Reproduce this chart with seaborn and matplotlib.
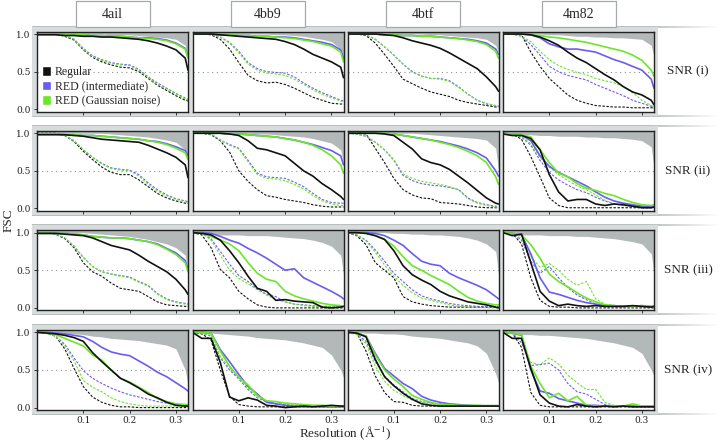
import numpy as np
import matplotlib
matplotlib.use('Agg')
import matplotlib.pyplot as plt
from matplotlib.patches import Rectangle, Patch
import seaborn as sns

# resolution grid (1/Angstrom) shared by all curves
X = [0.0, 0.02, 0.04, 0.06, 0.08, 0.10, 0.12, 0.14, 0.16, 0.18,
     0.20, 0.22, 0.24, 0.26, 0.28, 0.30, 0.32, 0.326]

proteins = ['4ail', '4bb9', '4btf', '4m82']
snr_levels = ['SNR (i)', 'SNR (ii)', 'SNR (iii)', 'SNR (iv)']
legend_labels = ['Regular', 'RED (intermediate)', 'RED (Gaussian noise)']

# --- SNR (i)
p_4ail_i = dict(
    ref=[1, 1, 1, 1, 1, 1, 1, 1, .99, .99, .99, .98, .97, .96, .95, .93, .85, .66],
    reg=[.99, .99, .99, .98, .98, .97, .97, .96, .96, .95, .94, .93, .91, .88, .84, .79, .68, .52],
    inter=[1, 1, 1, .99, .99, .99, .98, .98, .97, .97, .96, .95, .95, .94, .92, .88, .81, .70],
    gauss=[1, 1, 1, .99, .99, .99, .98, .98, .97, .97, .96, .95, .94, .93, .91, .87, .80, .68],
    reg_d=[1, 1, 1, .97, .92, .79, .69, .63, .59, .56, .55, .50, .41, .32, .25, .18, .12, .11],
    inter_d=[1, 1, 1, .98, .93, .81, .71, .66, .62, .60, .59, .53, .43, .35, .28, .21, .15, .13],
    gauss_d=[1, 1, 1, .98, .93, .80, .70, .65, .61, .59, .58, .52, .42, .33, .27, .20, .14, .12])
p_4bb9_i = dict(
    ref=[1, 1, 1, 1, 1, 1, 1, 1, 1, .99, .99, .98, .97, .95, .93, .90, .80, .64],
    reg=[1, 1, 1, .99, .98, .97, .96, .95, .94, .93, .90, .86, .80, .73, .68, .63, .56, .42],
    inter=[1, 1, 1, .99, .99, .98, .98, .97, .97, .96, .96, .95, .93, .91, .89, .86, .79, .67],
    gauss=[1, 1, 1, .99, .99, .98, .98, .97, .97, .96, .95, .94, .92, .90, .87, .84, .76, .63],
    reg_d=[1, 1, .99, .93, .80, .62, .45, .38, .35, .36, .33, .28, .22, .16, .12, .08, .07, .07],
    inter_d=[1, 1, 1, .96, .89, .77, .62, .54, .50, .49, .48, .43, .35, .28, .22, .17, .12, .11],
    gauss_d=[1, 1, 1, .96, .88, .75, .60, .52, .48, .47, .45, .40, .33, .26, .20, .15, .11, .10])
p_4btf_i = dict(
    ref=[1, 1, 1, 1, 1, 1, 1, 1, 1, .99, .99, .98, .97, .96, .95, .93, .85, .75],
    reg=[1, 1, 1, 1, .99, .98, .95, .91, .88, .85, .81, .75, .68, .61, .54, .43, .30, .24],
    inter=[1, 1, 1, 1, .99, .99, .98, .98, .97, .97, .96, .95, .94, .93, .91, .88, .80, .73],
    gauss=[1, 1, 1, 1, .99, .99, .98, .98, .97, .97, .96, .95, .94, .92, .90, .86, .77, .68],
    reg_d=[1, 1, .98, .88, .73, .57, .40, .34, .28, .23, .20, .17, .12, .09, .07, .05, .03, .03],
    inter_d=[1, 1, .99, .93, .83, .72, .60, .50, .44, .41, .41, .38, .30, .20, .12, .07, .04, .04],
    gauss_d=[1, 1, .99, .93, .83, .72, .60, .49, .44, .41, .40, .37, .29, .20, .12, .08, .05, .05])
p_4m82_i = dict(
    ref=[1, 1, 1, 1, 1, .99, .99, .98, .97, .97, .96, .96, .95, .95, .94, .93, .85, .70],
    reg=[1, 1, 1, .99, .96, .91, .85, .76, .68, .62, .54, .46, .39, .30, .23, .19, .12, .06],
    inter=[1, 1, 1, .99, .95, .87, .83, .80, .80, .78, .76, .71, .66, .62, .57, .52, .40, .28],
    gauss=[1, 1, 1, .99, .98, .96, .95, .93, .91, .89, .86, .83, .80, .77, .72, .65, .52, .44],
    reg_d=[1, 1, .99, .76, .57, .41, .30, .19, .12, .08, .05, .04, .03, .03, .02, .02, .02, .02],
    inter_d=[1, 1, .97, .86, .72, .57, .50, .45, .42, .39, .33, .28, .23, .18, .12, .08, .04, .03],
    gauss_d=[1, 1, .97, .90, .77, .66, .58, .53, .49, .46, .41, .38, .35, .30, .22, .12, .05, .03])

# --- SNR (ii)
p_4ail_ii = dict(
    ref=[1, 1, 1, 1, 1, 1, 1, 1, .99, .98, .97, .96, .95, .93, .91, .88, .78, .68],
    reg=[.98, .98, .98, .98, .97, .96, .94, .92, .91, .90, .89, .88, .84, .79, .74, .68, .58, .41],
    inter=[.99, .99, .99, .98, .98, .97, .97, .96, .95, .94, .93, .92, .90, .89, .86, .82, .77, .70],
    gauss=[.99, .99, .99, .98, .98, .97, .97, .96, .95, .94, .93, .92, .90, .88, .85, .80, .74, .65],
    reg_d=[1, 1, 1, .97, .89, .76, .65, .55, .48, .45, .45, .38, .29, .20, .14, .10, .07, .07],
    inter_d=[1, 1, 1, .97, .90, .78, .68, .60, .54, .52, .51, .45, .34, .25, .18, .13, .10, .09],
    gauss_d=[1, 1, 1, .97, .90, .78, .68, .59, .53, .51, .50, .43, .32, .23, .17, .12, .09, .08])
p_4bb9_ii = dict(
    ref=[1, 1, 1, 1, 1, 1, 1, .99, .99, .98, .97, .96, .95, .93, .90, .87, .78, .60],
    reg=[1, 1, 1, 1, .99, .97, .90, .80, .78, .74, .70, .60, .50, .43, .33, .25, .16, .12],
    inter=[1, 1, 1, 1, .99, .99, .98, .97, .96, .95, .93, .91, .88, .85, .81, .77, .70, .58],
    gauss=[1, 1, 1, 1, .99, .99, .98, .97, .96, .95, .93, .91, .88, .84, .78, .70, .58, .47],
    reg_d=[1, 1, .98, .90, .75, .50, .36, .25, .17, .15, .12, .10, .08, .05, .03, .02, .02, .02],
    inter_d=[1, 1, .99, .91, .85, .80, .64, .47, .42, .41, .40, .35, .29, .20, .12, .08, .07, .07],
    gauss_d=[1, 1, .99, .91, .84, .79, .62, .45, .40, .39, .37, .32, .26, .17, .10, .06, .04, .04])
p_4btf_ii = dict(
    ref=[1, 1, 1, 1, 1, 1, 1, 1, .99, .98, .97, .96, .95, .94, .93, .91, .80, .50],
    reg=[1, 1, 1, 1, .99, .97, .88, .79, .66, .61, .58, .52, .43, .34, .24, .14, .07, .06],
    inter=[1, 1, 1, 1, 1, .99, .97, .95, .93, .91, .89, .86, .83, .79, .74, .67, .50, .43],
    gauss=[1, 1, 1, 1, 1, .99, .97, .95, .93, .91, .88, .85, .81, .76, .70, .61, .42, .32],
    reg_d=[1, 1, .99, .80, .61, .40, .25, .18, .14, .13, .08, .07, .06, .04, .02, .01, .01, .01],
    inter_d=[1, .99, .96, .88, .78, .64, .44, .37, .33, .31, .30, .28, .25, .14, .08, .05, .03, .02],
    gauss_d=[1, .99, .96, .88, .78, .65, .46, .40, .36, .34, .32, .29, .25, .13, .07, .04, .02, .01])
p_4m82_ii = dict(
    ref=[1, .99, .98, .98, .97, .97, .96, .96, .96, .95, .95, .94, .94, .93, .92, .90, .82, .55],
    reg=[.99, .97, .97, .93, .78, .45, .22, .10, .12, .12, .06, .04, .06, .05, .03, .01, .01, .02],
    inter=[1, .99, .98, .90, .70, .56, .48, .42, .36, .30, .22, .15, .10, .07, .05, .03, .02, .02],
    gauss=[1, .99, .98, .95, .78, .61, .47, .42, .33, .27, .24, .20, .17, .12, .08, .05, .04, .05],
    reg_d=[1, .99, .92, .69, .42, .14, .04, .01, .01, .01, .01, .01, .01, .01, .01, .01, .01, .01],
    inter_d=[1, .99, .95, .84, .64, .48, .38, .31, .25, .21, .15, .10, .06, .04, .03, .02, .02, .02],
    gauss_d=[1, .99, .96, .86, .68, .55, .45, .37, .30, .25, .18, .11, .06, .04, .03, .02, .02, .02])

# --- SNR (iii)
p_4ail_iii = dict(
    ref=[1, 1, 1, 1, 1, 1, .99, .98, .97, .96, .95, .93, .91, .88, .85, .80, .70, .50],
    reg=[.99, .99, .99, .98, .97, .96, .93, .88, .83, .80, .77, .70, .62, .55, .48, .38, .24, .18],
    inter=[.99, .99, .99, .99, .98, .97, .95, .94, .93, .93, .92, .90, .88, .85, .79, .73, .63, .52],
    gauss=[.99, .99, .99, .99, .98, .97, .95, .94, .93, .93, .92, .90, .88, .84, .78, .71, .60, .48],
    reg_d=[1, 1, .98, .92, .80, .60, .48, .42, .33, .26, .24, .22, .15, .08, .04, .03, .02, .02],
    inter_d=[1, 1, .98, .93, .82, .67, .55, .48, .45, .43, .41, .35, .30, .19, .12, .08, .06, .05],
    gauss_d=[1, 1, .98, .93, .82, .67, .55, .48, .45, .42, .40, .34, .29, .18, .11, .07, .05, .04])
p_4bb9_iii = dict(
    ref=[1, .99, .98, .97, .97, .97, .96, .96, .96, .95, .94, .93, .92, .90, .87, .82, .70, .45],
    reg=[1, .99, .97, .90, .76, .60, .42, .26, .22, .10, .11, .09, .08, .07, .01, 0, .01, .02],
    inter=[1, 1, .99, .95, .90, .86, .79, .73, .66, .58, .50, .52, .40, .34, .28, .22, .15, .12],
    gauss=[1, .99, .95, .90, .85, .76, .60, .46, .38, .35, .22, .16, .12, .09, .06, .04, .03, .02],
    reg_d=[1, .97, .80, .51, .40, .22, .12, .04, .01, 0, 0, 0, 0, 0, 0, 0, 0, 0],
    inter_d=[1, .99, .92, .75, .58, .43, .35, .25, .18, .15, .08, .05, .04, .03, .02, .02, .02, .02],
    gauss_d=[1, .99, .90, .70, .50, .39, .32, .24, .17, .11, .08, .05, .03, .02, .02, .02, .02, .02])
p_4btf_iii = dict(
    ref=[1, 1, 1, 1, 1, .99, .99, .98, .98, .97, .97, .96, .95, .93, .90, .85, .75, .45],
    reg=[1, 1, .99, .96, .91, .76, .56, .44, .37, .31, .22, .16, .12, .08, .06, .04, .01, 0],
    inter=[1, 1, 1, .99, .96, .90, .83, .72, .62, .58, .56, .46, .40, .35, .30, .24, .15, .12],
    gauss=[1, 1, .99, .96, .91, .82, .68, .56, .50, .43, .37, .31, .22, .14, .09, .06, .04, .04],
    reg_d=[1, .96, .84, .60, .50, .40, .15, .08, .05, .03, .02, .01, .01, .01, .01, .01, .01, .01],
    inter_d=[1, .97, .90, .77, .62, .46, .35, .24, .16, .12, .09, .06, .04, .03, .02, .02, .02, .02],
    gauss_d=[1, .97, .89, .74, .57, .42, .30, .20, .13, .10, .07, .04, .02, .01, .01, 0, 0, 0])
p_4m82_iii = dict(
    ref=[1, .98, .97, .97, .97, .96, .96, .96, .95, .95, .94, .93, .92, .90, .88, .85, .72, .45],
    reg=[1, .96, .98, .60, .22, .09, .03, .05, .03, .02, .03, .02, .02, .02, .03, .02, .01, .02],
    inter=[1, .99, .97, .72, .40, .21, .18, .14, .10, .07, .05, .03, .03, .02, .02, .03, .02, .02],
    gauss=[1, .99, .97, .84, .66, .45, .35, .28, .20, .13, .08, .04, .03, .02, .02, .03, .02, .02],
    reg_d=[1, .99, .85, .40, .10, .02, .01, .01, 0, 0, 0, 0, 0, 0, 0, 0, 0, 0],
    inter_d=[1, .99, .90, .62, .46, .55, .40, .27, .17, .11, .05, .03, .02, .02, .02, .02, .02, .02],
    gauss_d=[1, .99, .92, .68, .54, .59, .50, .38, .30, .35, .12, .05, .03, .02, .02, .02, .02, .02])

# --- SNR (iv)
p_4ail_iv = dict(
    ref=[1, 1, 1, .99, .98, .97, .95, .94, .92, .91, .90, .89, .87, .85, .83, .78, .50, .30],
    reg=[1, .99, .98, .96, .93, .88, .73, .61, .50, .39, .33, .26, .18, .13, .07, .03, .02, .02],
    inter=[1, 1, .99, .98, .96, .94, .88, .80, .74, .71, .69, .62, .55, .47, .41, .33, .25, .22],
    gauss=[1, .99, .97, .92, .87, .82, .70, .63, .50, .39, .34, .27, .20, .12, .08, .05, .04, .04],
    reg_d=[1, .99, .95, .78, .52, .28, .14, .07, .03, .01, .01, 0, 0, 0, 0, 0, 0, 0],
    inter_d=[1, .99, .95, .84, .66, .49, .39, .32, .26, .21, .17, .14, .11, .08, .06, .04, .03, .03],
    gauss_d=[1, .99, .95, .82, .62, .36, .27, .21, .13, .08, .05, .03, .02, .02, .02, .02, .02, .02])
p_4bb9_iv = dict(
    ref=[1, 1, .99, .98, .97, .96, .95, .93, .92, .91, .90, .88, .86, .83, .80, .70, .50, .40],
    reg=[1, .92, .92, .60, .14, .09, .13, .10, .03, .02, 0, .01, .02, .01, .02, .03, .02, .02],
    inter=[1, 1, .99, .77, .61, .44, .28, .18, .07, .05, .03, .02, .01, .02, .01, .01, .01, .01],
    gauss=[1, 1, .99, .75, .55, .40, .30, .16, .09, .08, .06, .05, .04, .03, .03, .02, .02, .02],
    reg_d=[1, .98, .90, .50, .15, .04, .02, .01, .01, .01, .01, .01, .01, .01, .01, .01, .01, .01],
    inter_d=[1, .99, .95, .66, .50, .38, .24, .13, .08, .05, .04, .03, .02, .02, .02, .02, .02, .02],
    gauss_d=[1, .99, .96, .68, .53, .40, .26, .14, .09, .06, .04, .03, .02, .02, .02, .02, .02, .02])
p_4btf_iv = dict(
    ref=[1, 1, .99, .99, .98, .98, .97, .95, .94, .93, .92, .90, .88, .86, .82, .72, .45, .33],
    reg=[1, .99, .94, .64, .41, .29, .19, .11, .05, .03, .02, .02, .02, .02, .02, .02, .02, .02],
    inter=[1, .99, .95, .72, .52, .42, .32, .25, .15, .10, .07, .05, .04, .03, .02, .02, .02, .02],
    gauss=[1, .99, .95, .70, .50, .38, .28, .16, .11, .07, .04, .04, .03, .03, .03, .02, .02, .02],
    reg_d=[1, .99, .75, .42, .20, .08, .07, .03, .02, .02, .02, .02, .02, .02, .02, .02, .02, .02],
    inter_d=[1, .98, .88, .61, .42, .30, .21, .12, .08, .06, .05, .04, .03, .03, .03, .03, .03, .03],
    gauss_d=[1, .97, .85, .55, .35, .23, .16, .10, .07, .05, .04, .03, .03, .03, .03, .03, .03, .03])
p_4m82_iv = dict(
    ref=[1, .98, .97, .97, .96, .96, .95, .94, .93, .92, .90, .88, .86, .83, .80, .72, .50, .42],
    reg=[1, .92, .92, .52, .17, .06, .02, .01, .04, .02, .01, .02, .01, .02, .01, .01, .01, .01],
    inter=[1, .99, .96, .50, .22, .19, .12, .09, .06, .03, .03, .02, .02, .02, .02, .02, .02, .02],
    gauss=[1, .99, .97, .55, .32, .13, .19, .09, .15, .03, .02, .02, .02, .02, .05, .02, .02, .02],
    reg_d=[1, .99, .80, .20, .03, .01, .01, .01, .01, .01, .01, .01, .01, .01, .01, .01, .01, .01],
    inter_d=[1, .99, .86, .56, .57, .59, .50, .32, .21, .18, .11, .04, .02, .02, .02, .02, .02, .02],
    gauss_d=[1, .99, .90, .60, .57, .66, .58, .43, .33, .24, .24, .07, .03, .02, .02, .02, .02, .02])

panels = [
    [p_4ail_i, p_4bb9_i, p_4btf_i, p_4m82_i],
    [p_4ail_ii, p_4bb9_ii, p_4btf_ii, p_4m82_ii],
    [p_4ail_iii, p_4bb9_iii, p_4btf_iii, p_4m82_iii],
    [p_4ail_iv, p_4bb9_iv, p_4btf_iv, p_4m82_iv],
]

sns.set_style('white')
plt.rcParams['font.family'] = ['Liberation Serif', 'DejaVu Serif']
plt.rcParams['mathtext.fontset'] = 'stix'

BLACK = '#111111'
BLUE = '#6a5cf0'
GREEN = '#6be62a'
SHADE = '#b3b8b8'
BAND = '#d8dcdc'
EDGE = '#b9bfbf'

fig = plt.figure(figsize=(7.2, 4.43), dpi=100)

# background in pixel coordinates
bg = fig.add_axes([0, 0, 1, 1], zorder=-5)
bg.set_xlim(0, 720)
bg.set_ylim(443, 0)
bg.axis('off')

col_left = [37, 192.5, 347.5, 503]
row_top = [31.7, 130.9, 230.3, 330.0]
W, H = 151, 80

xs = np.linspace(32, 720, 400)
fade = np.clip((720 - xs) / 70.0, 0, 1)
rgb = matplotlib.colors.to_rgb(EDGE)
strip = np.zeros((1, len(xs), 4))
strip[..., 0], strip[..., 1], strip[..., 2] = rgb
strip[..., 3] = fade

for top in row_top:
    bg.add_patch(Rectangle((32, top - 5), 658 - 32, H + 9, fc=BAND, ec='none'))
    for yy in (top - 5.5, top + H + 3.5):
        bg.imshow(strip, extent=(32, 720, yy + 1.6, yy), aspect='auto', interpolation='bilinear')

for c, name in enumerate(proteins):
    cx = col_left[c] + W / 2
    bg.add_patch(Rectangle((cx - 37, 0.8), 74, 26, fc='white', ec='#a5a9a9', lw=0.9))
    bg.text(cx, 14.5, name, ha='center', va='center', fontsize=10)
bg.set_xlim(0, 720)
bg.set_ylim(443, 0)

for r in range(4):
    for c in range(4):
        d = panels[r][c]
        ax = fig.add_axes([col_left[c] / 720, 1 - (row_top[r] + H) / 443, W / 720, H / 443])
        ax.set_facecolor('white')
        ax.fill_between(X, d['ref'], 1.2, color=SHADE, lw=0)
        ax.axhline(0.5, color='#8e9393', lw=0.8, ls=(0, (1, 3.2)))
        dash = (0, (2.2, 1.4))
        sns.lineplot(x=X, y=d['reg_d'], ax=ax, color=BLACK, lw=0.8, linestyle=dash, errorbar=None)
        sns.lineplot(x=X, y=d['inter_d'], ax=ax, color=BLUE, lw=0.8, linestyle=dash, errorbar=None)
        sns.lineplot(x=X, y=d['gauss_d'], ax=ax, color=GREEN, lw=0.8, linestyle=dash, errorbar=None)
        sns.lineplot(x=X, y=d['inter'], ax=ax, color=BLUE, lw=1.2, errorbar=None)
        sns.lineplot(x=X, y=d['gauss'], ax=ax, color=GREEN, lw=1.2, errorbar=None)
        sns.lineplot(x=X, y=d['reg'], ax=ax, color=BLACK, lw=1.2, errorbar=None)
        ax.set_xlim(0, 0.326)
        ax.set_ylim(-0.032, 1.031)
        ax.set_xticks([0.1, 0.2, 0.3])
        ax.set_yticks([0.0, 0.5, 1.0])
        ax.set_xlabel('')
        ax.set_ylabel('')
        ax.tick_params(direction='out', length=2.5, width=0.7, color='#333333',
                       labelsize=6.5, pad=2, labelcolor='#222222',
                       bottom=True, left=(c == 0),
                       labelbottom=(r == 3), labelleft=(c == 0),
                       labelfontfamily='DejaVu Serif')
        ax.xaxis.set_major_formatter(matplotlib.ticker.FormatStrFormatter('%.1f'))
        ax.yaxis.set_major_formatter(matplotlib.ticker.FormatStrFormatter('%.1f'))
        for s in ax.spines.values():
            s.set_color('#222222')
            s.set_linewidth(1.0)
        if r == 0 and c == 0:
            handles = [Patch(facecolor=BLACK), Patch(facecolor=BLUE), Patch(facecolor=GREEN)]
            ax.legend(handles, legend_labels, loc='lower left', frameon=False,
                      fontsize=8.5, handlelength=0.75, handleheight=0.9,
                      handletextpad=0.35, labelspacing=0.2, borderpad=0.15,
                      borderaxespad=0.25)
    fig.text(688 / 720, 1 - (row_top[r] + H / 2) / 443, snr_levels[r],
             ha='center', va='center', fontsize=9.5)

fig.text(9 / 720, 1 - 220 / 443, 'FSC', rotation=90, ha='center', va='center', fontsize=9.5)
fig.text(345 / 720, 1 - 433 / 443, 'Resolution (Å$^{-1}$)', ha='center', va='center', fontsize=9.5)

fig.savefig('out.png', dpi=100)
